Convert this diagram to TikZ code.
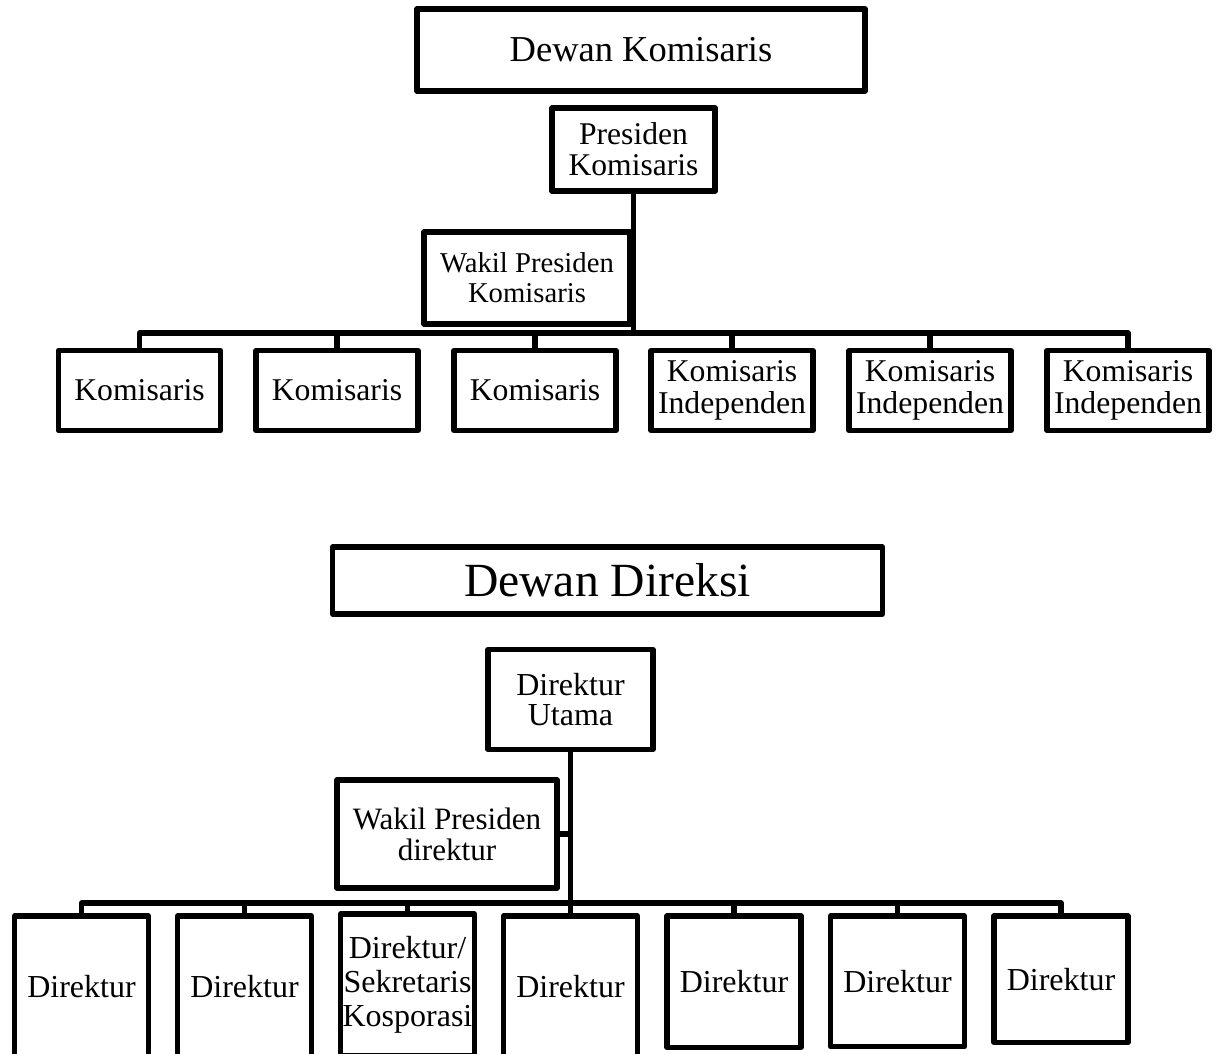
\documentclass[tikz,border=0pt]{standalone}
\usepackage{fontspec}
\setmainfont{Liberation Serif}
\begin{document}
\begin{tikzpicture}[x=1pt,y=-1pt,
  box/.style={draw, line width=5.4pt, line join=round, inner sep=0pt, align=center,
              font=\fontsize{31.7}{32}\selectfont},
  kbox/.style={box, minimum width=162, minimum height=80},
  dbox/.style={box, minimum width=134, font=\fontsize{32}{34}\selectfont},
  conn/.style={line width=5.4pt, line join=round}]
\useasboundingbox (0,0) rectangle (1219,1053);
\clip (0,0) rectangle (1219,1053);
\fill[white] (0,0) rectangle (1219,1053);

% ---------- Dewan Komisaris ----------
\node[box, minimum width=448, minimum height=82, font=\fontsize{36.5}{40}\selectfont] (dk) at (641,50) {Dewan Komisaris};
\node[box, minimum width=163, minimum height=83, font=\fontsize{31.6}{31}\selectfont] (pk) at (633.5,149.5) {Presiden\\Komisaris};
\node[box, minimum width=206, minimum height=92, font=\fontsize{28.7}{30}\selectfont] (wpk) at (527,278) {Wakil Presiden\\Komisaris};
\coordinate (bk) at (633.5,333);

\node[kbox] (k1) at (139.5,390.5) {Komisaris};
\node[kbox] (k2) at (337,390.5) {Komisaris};
\node[kbox] (k3) at (535,390.5) {Komisaris};
\node[kbox] (k4) at (732,390.5) {Komisaris\\Independen};
\node[kbox] (k5) at (930,390.5) {Komisaris\\Independen};
\node[kbox] (k6) at (1128,390.5) {Komisaris\\Independen};

\draw[conn] (pk.south) -- (bk);
\draw[conn] (wpk.east) -- (wpk.east -| bk);
\draw[conn] (k1.north) -- (k1.north |- bk) -- (k6.north |- bk) -- (k6.north);
\foreach \n in {k2,k3,k4,k5} \draw[conn] (\n.north) -- (\n.north |- bk);

% ---------- Dewan Direksi ----------
\node[box, minimum width=550, minimum height=67, font=\fontsize{47.6}{50}\selectfont] (dd) at (607.5,580.5) {Dewan Direksi};
\node[box, minimum width=165, minimum height=100, font=\fontsize{32}{30}\selectfont] (du) at (570.5,699.5) {Direktur\\Utama};
\node[box, minimum width=220, minimum height=108, font=\fontsize{31.1}{31}\selectfont] (wpd) at (447,834) {Wakil Presiden\\direktur};
\coordinate (bd) at (570.5,903);

\node[dbox, minimum height=142] (d1) at (81.5,987) {Direktur};
\node[dbox, minimum height=142] (d2) at (244.5,987) {Direktur};
\node[dbox, minimum height=142] (d3) at (407.5,985) {Direktur/\\Sekretaris\\Kosporasi};
\node[dbox, minimum height=142] (d4) at (570.5,987) {Direktur};
\node[dbox, minimum height=131.5] (d5) at (734,981.75) {Direktur};
\node[dbox, minimum height=130.5] (d6) at (897.5,981.25) {Direktur};
\node[dbox, minimum height=126.5] (d7) at (1061,979.25) {Direktur};

\draw[conn] (du.south) -- (d4.north);
\draw[conn] (wpd.east) -- (wpd.east -| bd);
\draw[conn] (d1.north) -- (d1.north |- bd) -- (d7.north |- bd) -- (d7.north);
\foreach \n in {d2,d3,d5,d6} \draw[conn] (\n.north) -- (\n.north |- bd);
\end{tikzpicture}
\end{document}
